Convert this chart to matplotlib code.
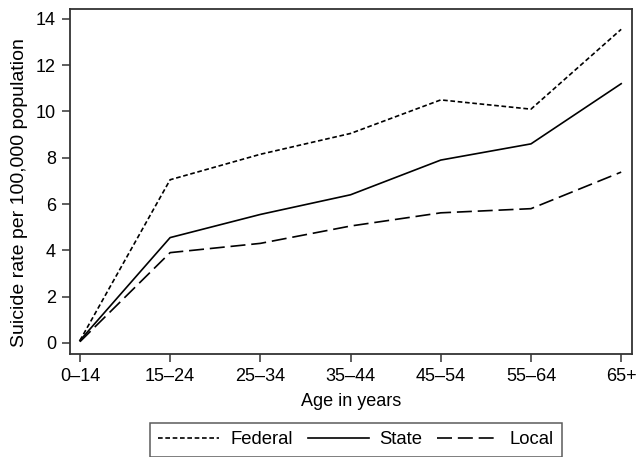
import matplotlib
matplotlib.use("Agg")
import matplotlib.pyplot as plt

plt.rcParams['font.family'] = ['Liberation Sans', 'DejaVu Sans']

ages = ["0\u201314", "15\u201324", "25\u201334", "35\u201344", "45\u201354", "55\u201364", "65+"]
federal = [0.1, 7.05, 8.15, 9.05, 10.5, 10.1, 13.55]
state = [0.1, 4.55, 5.55, 6.4, 7.9, 8.6, 11.2]
local = [0.05, 3.9, 4.3, 5.05, 5.62, 5.8, 7.38]

fig = plt.figure(figsize=(6.38, 4.57), dpi=100)
ax = fig.add_axes([0.1097, 0.2254, 0.8809, 0.755])
x = list(range(len(ages)))
ax.plot(x, federal, color='black', lw=1.2, dashes=(2.8, 1.6), label='Federal')
ax.plot(x, state, color='black', lw=1.2, label='State')
ax.plot(x, local, color='black', lw=1.2, dashes=(9, 3.5), label='Local')

fs = 13
ax.set_xlim(-0.11, 6.12)
ax.set_ylim(-0.48, 14.43)
ax.set_xticks(x)
ax.set_xticklabels(ages)
ax.set_yticks(range(0, 15, 2))
ax.tick_params(labelsize=fs, length=6, width=1.1, color='#333333', pad=4)
for s in ax.spines.values():
    s.set_linewidth(1.3)
    s.set_color('#333333')
ax.set_xlabel('Age in years', fontsize=fs, labelpad=6)
ax.set_ylabel('Suicide rate per 100,000 population', fontsize=14)
ax.yaxis.set_label_coords(-0.075, 0.467)

leg = fig.legend(loc='upper center', bbox_to_anchor=(0.558, 0.0744), ncol=3,
                 fontsize=13.3, handlelength=3.3, frameon=True, fancybox=False,
                 edgecolor='#333333', borderaxespad=0, columnspacing=0.8,
                 handletextpad=0.6, borderpad=0.45)
leg.get_frame().set_linewidth(1.1)

fig.savefig('out.png', dpi=100)
